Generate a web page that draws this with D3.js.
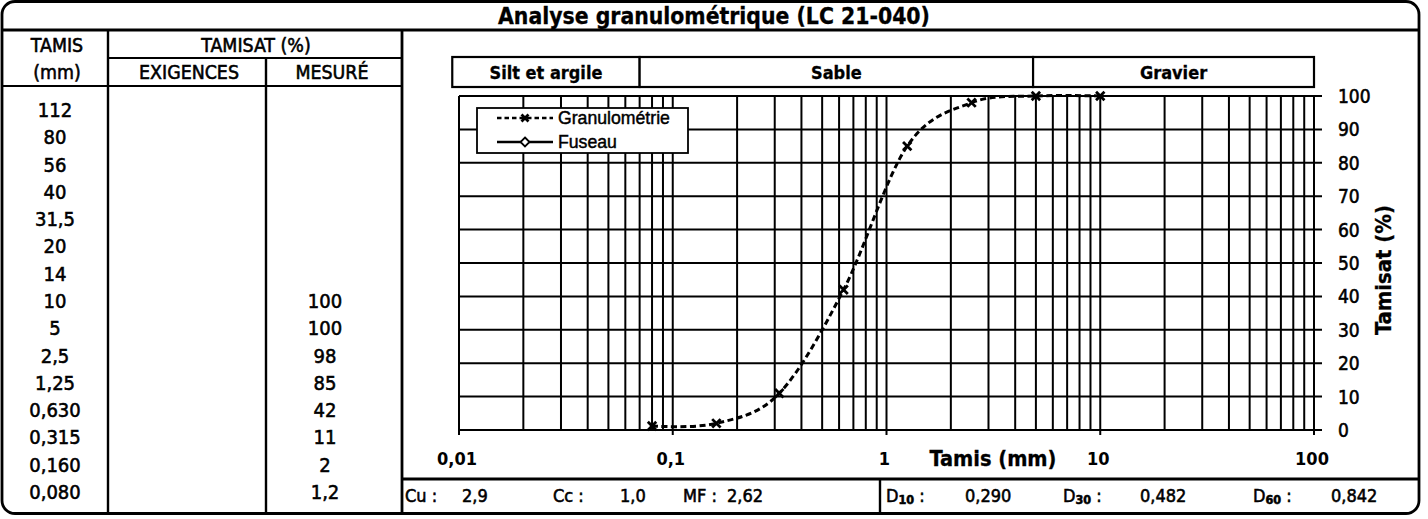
<!DOCTYPE html>
<html><head><meta charset="utf-8">
<script src="https://cdn.jsdelivr.net/npm/d3@7"></script>
<style>body{margin:0;background:#fff} svg{display:block}</style>
</head><body>
<svg id="c" width="1428" height="519"></svg>
<script>
// ---------- data ----------
const chartTitle = "Analyse granulométrique (LC 21-040)";
const headerTop = ["TAMIS", "TAMISAT (%)"];
const headerSub = ["(mm)", "EXIGENCES", "MESURÉ"];
const sieveLabels = ["112","80","56","40","31,5","20","14","10","5","2,5","1,25","0,630","0,315","0,160","0,080"];
const exigenceLabels = ["","","","","","","","","","","","","","",""];
const measuredLabels = ["","","","","","","","100","100","98","85","42","11","2","1,2"];
const sieveSizes = [0.08, 0.16, 0.315, 0.63, 1.25, 2.5, 5, 10];
const passing = [1.2, 2, 11, 42, 85, 98, 100, 100];
const fuseauSizes = [];
const fuseauValues = [];
const xTickValues = [0.01, 0.1, 1, 10, 100];
const xTickLabels = ["0,01", "0,1", "1", "10", "100"];
const yTickValues = [0, 10, 20, 30, 40, 50, 60, 70, 80, 90, 100];
const bandEdges = [0.0093, 0.07, 4.85, 100];
const bandNames = ["Silt et argile", "Sable", "Gravier"];
const legendNames = ["Granulométrie", "Fuseau"];
const xTitle = "Tamis (mm)";
const yTitle = "Tamisat (%)";
const coefLabels = ["Cu", "Cc", "MF"];
const coefValues = ["2,9", "1,0", "2,62"];
const dSubs = ["10", "30", "60"];
const dValues = ["0,290", "0,482", "0,842"];

// ---------- layout ----------
const svg = d3.select("#c");
const FONT = "'DejaVu Sans Condensed', 'DejaVu Sans', sans-serif";
const INK = 0.55; // extra stroke to mimic the heavy print
const L = {left: 2, right: 1419, top: 1.5, bottom: 513.5, titleLine: 30,
  col1: 108, col2: 266, col3: 402, subLine: 58, headLine: 86,
  statsLine: 479, statsDiv: 880};

function fit(sel, w) {
  const n = sel.node();
  const fs = parseFloat(sel.attr("font-size"));
  const len = n.getComputedTextLength();
  sel.attr("font-size", fs * w / len);
  return fs * w / len;
}
function ink(sel, w) { return sel.attr("stroke", "#000").attr("stroke-width", w); }

// frame
svg.append("rect").attr("x", L.left).attr("y", L.top)
  .attr("width", L.right - L.left).attr("height", L.bottom - L.top)
  .attr("rx", 13).attr("fill", "#fff").attr("stroke", "#000").attr("stroke-width", 2.8);

const lines = [
  [L.left, L.titleLine, L.right, L.titleLine, 2.8],
  [L.col1, L.titleLine, L.col1, L.bottom, 2.4],
  [L.col2, L.subLine, L.col2, L.bottom, 2.4],
  [L.col3, L.titleLine, L.col3, L.bottom, 2.8],
  [L.col1, L.subLine, L.col3, L.subLine, 2.2],
  [L.left, L.headLine, L.col3, L.headLine, 2.2],
  [L.col3, L.statsLine, L.right, L.statsLine, 2.8],
  [L.statsDiv, L.statsLine, L.statsDiv, L.bottom, 2.4]
];
svg.append("g").selectAll("line").data(lines).join("line")
  .attr("x1", d => d[0]).attr("y1", d => d[1]).attr("x2", d => d[2]).attr("y2", d => d[3])
  .attr("stroke", "#000").attr("stroke-width", d => d[4]);

// title
const t = svg.append("text").text(chartTitle).attr("x", 714).attr("y", 16)
  .attr("text-anchor", "middle").attr("dominant-baseline", "central")
  .attr("font-family", FONT).attr("font-weight", "bold").attr("font-size", 20);
fit(t, 432);
ink(t, 0.3);

// table headers
const hdr = svg.append("g").attr("font-family", FONT).attr("font-size", 19)
  .attr("text-anchor", "middle").attr("dominant-baseline", "central");
ink(hdr, INK);
const exg = hdr.append("text").text(headerSub[1]).attr("x", 189).attr("y", 72).attr("font-size", 19);
const hs = fit(exg, 100);
hdr.attr("font-size", hs);
hdr.append("text").text(headerTop[0]).attr("x", 57).attr("y", 45);
hdr.append("text").text(headerTop[1]).attr("x", 256).attr("y", 45);
hdr.append("text").text(headerSub[0]).attr("x", 57).attr("y", 72);
hdr.append("text").text(headerSub[2]).attr("x", 332).attr("y", 72);

// table rows
const rowY = d3.scaleLinear().domain([0, sieveLabels.length - 1]).range([110, 492]);
const rows = svg.append("g").attr("font-family", FONT).attr("font-size", 20)
  .attr("text-anchor", "middle").attr("dominant-baseline", "central");
ink(rows, INK);
rows.selectAll("text.s").data(sieveLabels).join("text").attr("class", "s")
  .attr("x", 55).attr("y", (d, i) => rowY(i)).text(d => d);
rows.selectAll("text.e").data(exigenceLabels).join("text").attr("class", "e")
  .attr("x", 187).attr("y", (d, i) => rowY(i)).text(d => d);
rows.selectAll("text.m").data(measuredLabels).join("text").attr("class", "m")
  .attr("x", 325).attr("y", (d, i) => rowY(i)).text(d => d);

// ---------- chart ----------
const x = d3.scaleLog().domain([0.01, 100]).range([459, 1314]);
const y = d3.scaleLinear().domain([0, 100]).range([430, 96]);

// bands
const bands = svg.append("g");
const bandData = bandNames.map((n, i) => ({name: n, a: bandEdges[i], b: bandEdges[i + 1]}));
bands.selectAll("rect").data(bandData).join("rect")
  .attr("x", d => x(d.a)).attr("width", d => x(d.b) - x(d.a))
  .attr("y", 57).attr("height", 30).attr("fill", "#fff").attr("stroke", "#000").attr("stroke-width", 2.2);
bands.selectAll("text").data(bandData).join("text")
  .attr("x", d => (x(d.a) + x(d.b)) / 2).attr("y", 72)
  .attr("text-anchor", "middle").attr("dominant-baseline", "central")
  .attr("font-family", FONT).attr("font-weight", "bold").attr("font-size", 17)
  .attr("stroke", "#000").attr("stroke-width", 0.3)
  .text(d => d.name);
const bs = fit(bands.select("text"), 113);
bands.selectAll("text").attr("font-size", bs);

// grid
const grid = svg.append("g").attr("stroke", "#000").attr("stroke-width", 2);
const vt = x.ticks();
const isDecade = d => xTickValues.some(v => Math.abs(Math.log10(v) - Math.log10(d)) < 1e-9);
grid.selectAll("line.v").data(vt).join("line").attr("class", "v")
  .attr("x1", d => x(d)).attr("x2", d => x(d))
  .attr("y1", y(100))
  .attr("y2", d => isDecade(d) ? y(0) + 5 : y(0));
grid.selectAll("line.h").data(yTickValues).join("line").attr("class", "h")
  .attr("x1", x(0.01)).attr("x2", x(100) + 8)
  .attr("y1", d => y(d)).attr("y2", d => y(d));

// x labels
svg.append("g").selectAll("text").data(xTickValues).join("text")
  .attr("x", d => x(d) - 2).attr("y", 458)
  .attr("text-anchor", "middle").attr("dominant-baseline", "central")
  .attr("font-family", FONT).attr("font-weight", "bold").attr("font-size", 18)
  .text((d, i) => xTickLabels[i]);
// y labels (right)
svg.append("g").selectAll("text").data(yTickValues).join("text")
  .attr("x", 1338).attr("y", d => y(d))
  .attr("dominant-baseline", "central")
  .attr("font-family", FONT).attr("font-size", 19)
  .attr("stroke", "#000").attr("stroke-width", INK)
  .text(d => d);

// axis titles
const xt = svg.append("text").text(xTitle).attr("x", 993).attr("y", 458)
  .attr("text-anchor", "middle").attr("dominant-baseline", "central")
  .attr("font-family", FONT).attr("font-weight", "bold").attr("font-size", 20);
fit(xt, 127);
ink(xt, 0.3);
const yt = svg.append("text").text(yTitle)
  .attr("transform", "translate(1383,270) rotate(-90)")
  .attr("text-anchor", "middle").attr("dominant-baseline", "central")
  .attr("font-family", FONT).attr("font-weight", "bold").attr("font-size", 20);
fit(yt, 130);
ink(yt, 0.3);

// series
const pts = sieveSizes.map((s, i) => ({s, v: passing[i]}));
const line = d3.line().x(d => x(d.s)).y(d => y(d.v)).curve(d3.curveCardinal.tension(0));
svg.append("path").datum(pts).attr("d", line)
  .attr("fill", "none").attr("stroke", "#000").attr("stroke-width", 3)
  .attr("stroke-dasharray", "6,3.5");
const fpts = fuseauSizes.map((s, i) => ({s, v: fuseauValues[i]}));
if (fpts.length) svg.append("path").datum(fpts).attr("d", line)
  .attr("fill", "none").attr("stroke", "#000").attr("stroke-width", 2.5);

function xMark(g, cx, cy, r) {
  g.append("path").attr("d", `M${cx - r},${cy - r}L${cx + r},${cy + r}M${cx - r},${cy + r}L${cx + r},${cy - r}`)
    .attr("stroke", "#000").attr("stroke-width", 2.8).attr("fill", "none");
}
const mk = svg.append("g");
pts.forEach(d => xMark(mk, x(d.s), y(d.v), 4.2));

// legend
const lg = svg.append("g");
lg.append("rect").attr("x", 477).attr("y", 108).attr("width", 211).attr("height", 45)
  .attr("fill", "#fff").attr("stroke", "#000").attr("stroke-width", 1.8);
lg.append("line").attr("x1", 497).attr("x2", 553).attr("y1", 118).attr("y2", 118)
  .attr("stroke", "#000").attr("stroke-width", 2.6).attr("stroke-dasharray", "4.5,3");
xMark(lg, 525, 118, 3.5);
lg.append("line").attr("x1", 497).attr("x2", 553).attr("y1", 142).attr("y2", 142)
  .attr("stroke", "#000").attr("stroke-width", 2.6);
lg.append("path").attr("d", "M525,137.5L529.5,142L525,146.5L520.5,142Z")
  .attr("fill", "#fff").attr("stroke", "#000").attr("stroke-width", 1.8);
const lt = lg.selectAll("text").data(legendNames).join("text")
  .attr("x", 558).attr("y", (d, i) => i ? 142 : 118)
  .attr("dominant-baseline", "central")
  .attr("font-family", "'Liberation Sans', Arial, sans-serif").attr("font-size", 17)
  .attr("stroke", "#000").attr("stroke-width", 0.45)
  .text(d => d);
const ls = fit(lg.select("text"), 112);
lt.attr("font-size", ls);

// stats row
const st = svg.append("g").attr("font-family", FONT).attr("font-size", 18)
  .attr("dominant-baseline", "central");
ink(st, INK);
const coefLabelX = [405, 553, 683];
const coefValueX = [462, 620, 727];
coefLabels.forEach((c, i) => {
  st.append("text").attr("x", coefLabelX[i]).attr("y", 495).text(c + " :");
  st.append("text").attr("x", coefValueX[i]).attr("y", 495).text(coefValues[i]);
});
const dLabelX = [886, 1063, 1253];
const dValueX = [965, 1140, 1331];
dSubs.forEach((s, i) => {
  const tx = st.append("text").attr("x", dLabelX[i]).attr("y", 495);
  tx.append("tspan").text("D");
  tx.append("tspan").attr("font-size", 12.5).attr("font-weight", "bold").attr("dy", 4).text(s);
  tx.append("tspan").attr("dy", -4).text(" :");
  st.append("text").attr("x", dValueX[i]).attr("y", 495).text(dValues[i]);
});
</script>
</body></html>
